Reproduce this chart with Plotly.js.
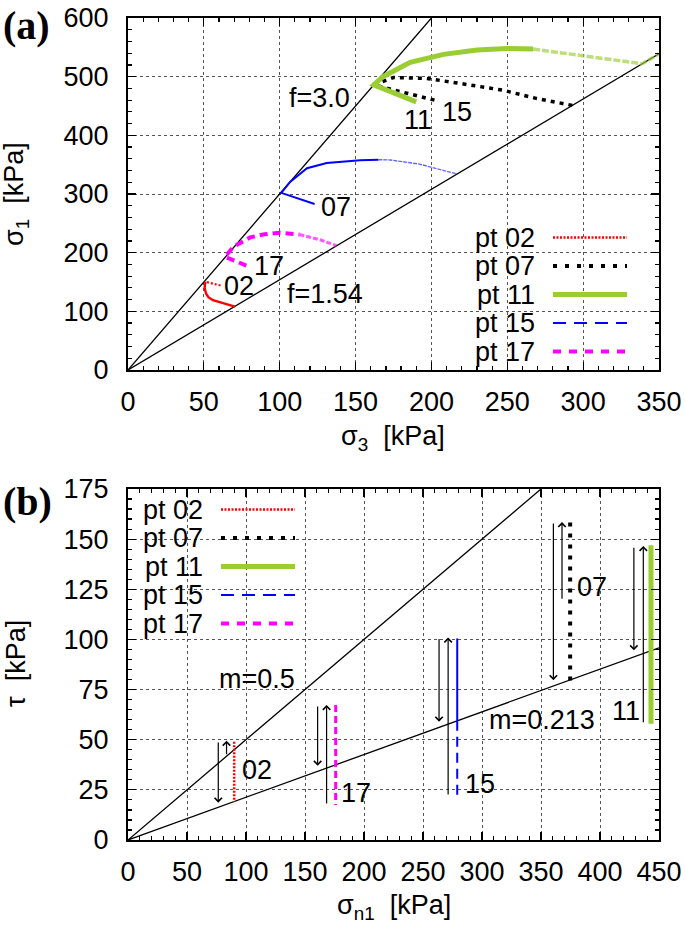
<!DOCTYPE html>
<html>
<head>
<meta charset="utf-8">
<script src="https://cdn.plot.ly/plotly-3.0.1.min.js"></script>
<style>html,body{margin:0;padding:0;background:#fff}#chart{width:685px;height:925px}</style>
</head>
<body>
<div id="chart"></div>
<script>
// ---------- series names / colours ----------
const seriesNames = ['pt 02', 'pt 07', 'pt 11', 'pt 15', 'pt 17'];
const seriesColors = ['#ff0000', '#000000', '#9acd32', '#0000ff', '#ff00ff'];

// ---------- panel (a): sigma3 vs sigma1 [kPa] ----------
const failF30_s3 = [0, 200];
const failF30_s1 = [0, 600];
const failF154_s3 = [0, 350];
const failF154_s1 = [0, 539];

const a02_s3 = [61, 51, 50.5, 51.5, 53, 56, 63, 70.5];
const a02_s1 = [144, 150.5, 140, 130, 124, 119, 113.5, 108];
const a07_s3 = [202, 165, 162, 175, 197, 225, 247, 269, 293];
const a07_s1 = [460, 484, 486, 498.5, 497, 486, 477, 463, 451];
const a11_s3 = [190, 162, 168, 186, 208, 230, 250, 267, 296, 320, 339, 350];
const a11_s1 = [457, 486, 500, 524.5, 538, 545.5, 548, 547, 537, 528, 522, 539];
const a15_s3 = [123, 101, 107, 118, 131, 153, 165, 173, 192, 217];
const a15_s1 = [283, 302, 321, 344, 353, 357.5, 358.5, 358, 351, 334];
const a17_s3 = [78, 64, 69.5, 80.5, 90, 100, 113, 127, 137.5];
const a17_s1 = [178, 193, 210, 226, 231.5, 234, 231, 221.5, 212];

// panel (a) text labels
const aLabelText = ['f=3.0', 'f=1.54', '07', '17', '02', '11', '15'];
const aLabelS3 = [126, 130, 137, 93, 73, 191, 217];
const aLabelS1 = [463, 130, 278, 178, 144, 426, 440];

// ---------- panel (b): sigma_n1 vs tau [kPa] ----------
const lineM05_sn = [0, 350];
const lineM05_tau = [0, 175];
const lineM213_sn = [0, 450];
const lineM213_tau = [0, 95.85];

const b02_sn = [90, 90];       const b02_tau = [49, 19];
const b07_sn = [374.7, 374.7]; const b07_tau = [158.3, 79];
const b11_sn = [443.2, 443.2]; const b11_tau = [147, 58];
const b15_sn = [279, 279, 279]; const b15_tau = [100.5, 59.5, 21.5];
const b17_sn = [176, 176];     const b17_tau = [67.3, 17.5];

// arrows in panel (b): tail -> head
const arrSn    = [76.5, 83.5, 160.7, 168.3, 263.6, 271.3, 360.5, 367.8, 428.7, 436.7];
const arrTail  = [49.3, 42.0, 67.3, 17.4, 101.0, 21.9, 158.5, 119.5, 146.5, 58.0];
const arrHead  = [18.6, 49.5, 37.0, 67.3, 59.0, 101.0, 79.7, 158.5, 94.6, 146.6];

// panel (b) text labels
const bLabelText = ['m=0.5', 'm=0.213', '02', '17', '15', '07', '11'];
const bLabelSn = [109, 351, 109, 193, 298, 393, 422];
const bLabelTau = [80.5, 60, 35, 23.2, 27.9, 126, 64.3];

// ---------- helpers ----------
const W = 685, H = 925;
const FONT = 'Liberation Sans, Arial, sans-serif';
const FS = 27;
const px = v => v / W;
const py = v => 1 - v / H;

function tr(x, y, xa, ya, color, width, dash, name) {
  return {x: x, y: y, xaxis: xa, yaxis: ya, type: 'scatter', mode: 'lines',
          name: name, showlegend: false, hoverinfo: 'skip',
          line: {color: color, width: width, dash: dash}};
}
// part of a path, by point index (the sparse end of each measured path is drawn lighter)
const part = (arr, i0, i1) => arr.slice(i0, i1 === undefined ? arr.length : i1 + 1);

const data = [
  tr(failF30_s3, failF30_s1, 'x', 'y', '#000', 1.3, 'solid', 'f=3.0'),
  tr(failF154_s3, failF154_s1, 'x', 'y', '#000', 1.3, 'solid', 'f=1.54'),
  tr(part(a02_s3, 0, 1), part(a02_s1, 0, 1), 'x', 'y', seriesColors[0], 2.2, '2px,2px', seriesNames[0]),
  tr(part(a02_s3, 1), part(a02_s1, 1), 'x', 'y', seriesColors[0], 2.4, 'solid', seriesNames[0]),
  tr(a07_s3, a07_s1, 'x', 'y', seriesColors[1], 3.5, '4px,5px', seriesNames[1]),
  tr(part(a11_s3, 0, 7), part(a11_s1, 0, 7), 'x', 'y', seriesColors[2], 5, 'solid', seriesNames[2]),
  tr(part(a11_s3, 7), part(a11_s1, 7), 'x', 'y', 'rgba(154,205,50,0.65)', 3.5, '7px,2px', seriesNames[2]),
  tr(part(a15_s3, 0, 6), part(a15_s1, 0, 6), 'x', 'y', seriesColors[3], 2, 'solid', seriesNames[3]),
  tr(part(a15_s3, 6), part(a15_s1, 6), 'x', 'y', 'rgba(0,0,255,0.6)', 1.4, '4px,1px', seriesNames[3]),
  tr(part(a17_s3, 0, 6), part(a17_s1, 0, 6), 'x', 'y', seriesColors[4], 4, '8px,5px', seriesNames[4]),
  tr(part(a17_s3, 6), part(a17_s1, 6), 'x', 'y', 'rgba(255,0,255,0.65)', 3, '5px,2px', seriesNames[4]),

  tr(lineM05_sn, lineM05_tau, 'x2', 'y2', '#000', 1.3, 'solid', 'm=0.5'),
  tr(lineM213_sn, lineM213_tau, 'x2', 'y2', '#000', 1.3, 'solid', 'm=0.213'),
  tr(b02_sn, b02_tau, 'x2', 'y2', seriesColors[0], 2.5, '2px,1.5px', seriesNames[0]),
  tr(b07_sn, b07_tau, 'x2', 'y2', seriesColors[1], 4, '4px,7px', seriesNames[1]),
  tr(b11_sn, b11_tau, 'x2', 'y2', seriesColors[2], 5, 'solid', seriesNames[2]),
  tr(part(b15_sn, 0, 1), part(b15_tau, 0, 1), 'x2', 'y2', seriesColors[3], 2, 'solid', seriesNames[3]),
  tr(part(b15_sn, 1), part(b15_tau, 1), 'x2', 'y2', seriesColors[3], 2, '10px,6px', seriesNames[3]),
  tr(b17_sn, b17_tau, 'x2', 'y2', seriesColors[4], 3, '7px,4px', seriesNames[4])
];

function axis(extra) {
  return Object.assign({
    showline: true, linecolor: '#000', linewidth: 2, mirror: 'allticks',
    ticks: 'inside', ticklen: 8, tickwidth: 1.2, tickcolor: '#000',
    showgrid: true, gridcolor: '#555', gridwidth: 1, griddash: 'dot',
    zeroline: false, fixedrange: true,
    tickfont: {family: FONT, size: FS, color: '#000'}
  }, extra);
}

const annotations = [];
const txtFont = {family: FONT, size: FS, color: '#000'};
aLabelText.forEach((t, i) => annotations.push({xref: 'x', yref: 'y', x: aLabelS3[i], y: aLabelS1[i],
  text: t, showarrow: false, font: txtFont}));
bLabelText.forEach((t, i) => annotations.push({xref: 'x2', yref: 'y2', x: bLabelSn[i], y: bLabelTau[i],
  text: t, showarrow: false, font: txtFont}));
arrSn.forEach((s, i) => annotations.push({xref: 'x2', yref: 'y2', axref: 'x2', ayref: 'y2',
  x: s, y: arrHead[i], ax: s, ay: arrTail[i], text: '', showarrow: true,
  arrowhead: 4, arrowsize: 1.2, arrowwidth: 1.2, arrowcolor: '#000', standoff: 0}));

// axis titles (placed as in the reference)
const axTitles = [
  {t: 'σ<sub>3</sub>\u00a0\u00a0[kPa]', x: 393, y: 438, a: 0},
  {t: 'σ<sub>1</sub>\u00a0\u00a0[kPa]', x: 16, y: 194, a: -90},
  {t: 'σ<sub>n1</sub>\u00a0\u00a0[kPa]', x: 394, y: 907, a: 0},
  {t: 'τ\u00a0\u00a0[kPa]', x: 16, y: 664, a: -90}
];
axTitles.forEach(o => annotations.push({xref: 'paper', yref: 'paper', x: px(o.x), y: py(o.y),
  xanchor: 'center', yanchor: 'middle', textangle: o.a, text: o.t, showarrow: false, font: txtFont}));

// panel labels
const serif = {family: 'Liberation Serif, Times New Roman, serif', size: 40, color: '#000'};
annotations.push({xref: 'paper', yref: 'paper', x: px(1), y: py(1), xanchor: 'left', yanchor: 'top',
  text: '<b>(a)</b>', showarrow: false, font: serif});
annotations.push({xref: 'paper', yref: 'paper', x: px(1), y: py(477), xanchor: 'left', yanchor: 'top',
  text: '<b>(b)</b>', showarrow: false, font: serif});

// key boxes (text left, line sample right, as in the reference)
const legendDash = ['2px,1.5px', '4px,8px', 'solid', '13px,8px', '8px,8px'];
const legendWidth = [2.5, 4, 5, 2, 4];
const shapes = [];
function key(box, textRight, sx0, sx1, row0, rowStep) {
  shapes.push({type: 'rect', xref: 'paper', yref: 'paper', x0: px(box[0]), x1: px(box[1]),
    y0: py(box[3]), y1: py(box[2]), fillcolor: '#fff', line: {width: 0}, layer: 'between'});
  seriesNames.forEach((n, i) => {
    const ry = row0 + i * rowStep;
    annotations.push({xref: 'paper', yref: 'paper', x: px(textRight), y: py(ry),
      xanchor: 'right', yanchor: 'middle', text: n, showarrow: false, font: txtFont});
    shapes.push({type: 'line', xref: 'paper', yref: 'paper', x0: px(sx0), x1: px(sx1),
      y0: py(ry), y1: py(ry),
      line: {color: seriesColors[i], width: legendWidth[i], dash: legendDash[i]}});
  });
}
key([452, 658, 222, 369], 537, 553, 627, 237.5, 28.5);
key([129, 311, 490, 637], 205, 221, 295, 509.5, 28.5);

const layout = {
  width: W, height: H,
  margin: {l: 0, r: 0, t: 0, b: 0},
  paper_bgcolor: '#fff', plot_bgcolor: '#fff',
  showlegend: false,
  font: {family: FONT, size: FS, color: '#000'},
  xaxis: axis({domain: [px(128), px(659)], anchor: 'y', range: [0, 350], tick0: 0, dtick: 50,
    ticklabelstandoff: 7,
    minor: {ticks: 'inside', ticklen: 4, dtick: 10, tickcolor: '#000', showgrid: false}}),
  yaxis: axis({domain: [py(370), py(18)], anchor: 'x', range: [0, 600], tick0: 0, dtick: 100,
    ticklabelstandoff: 12,
    minor: {ticks: 'inside', ticklen: 4, dtick: 20, tickcolor: '#000', showgrid: false}}),
  xaxis2: axis({domain: [px(128), px(659)], anchor: 'y2', range: [0, 450], tick0: 0, dtick: 50,
    ticklabelstandoff: 7,
    minor: {ticks: 'inside', ticklen: 4, dtick: 10, tickcolor: '#000', showgrid: false}}),
  yaxis2: axis({domain: [py(840), py(489)], anchor: 'x2', range: [0, 175], tick0: 0, dtick: 25,
    ticklabelstandoff: 12,
    minor: {ticks: 'inside', ticklen: 4, dtick: 5, tickcolor: '#000', showgrid: false}}),
  annotations: annotations,
  shapes: shapes
};

Plotly.newPlot('chart', data, layout, {staticPlot: true, displayModeBar: false});
</script>
</body>
</html>
